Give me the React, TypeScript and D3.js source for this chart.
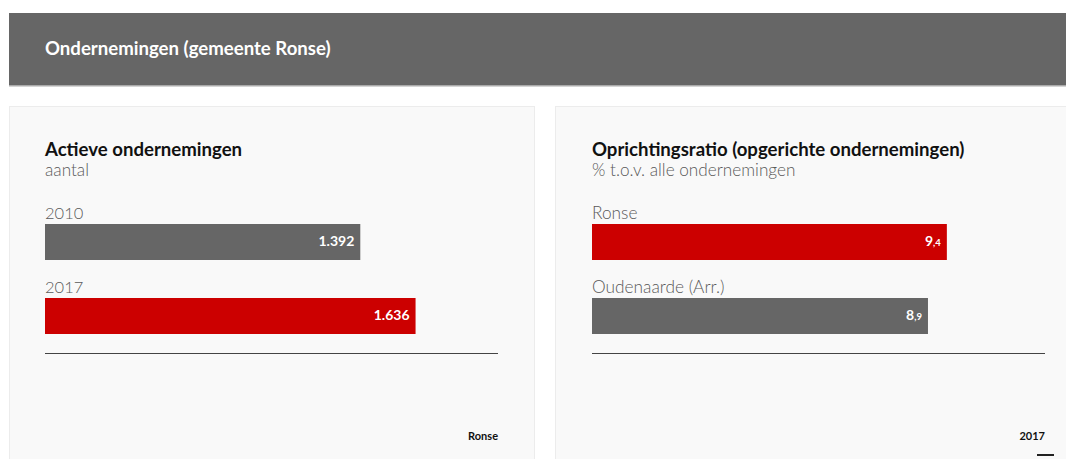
import React from "react";
import * as d3 from "d3";

const leftCategories = ["2010", "2017"];
const leftValues = [1392, 1636];
const leftColors = ["#666666", "#cc0000"];

const rightCategories = ["Ronse", "Oudenaarde (Arr.)"];
const rightValues = [9.4, 8.9];
const rightColors = ["#cc0000", "#666666"];

const FONT = "Lato, 'Open Sans', sans-serif";

function Panel({ x0, title, subtitle, cats, vals, colors, domainMax, fmt, footer, footerMark, catSize }: any) {
  const left = x0 + 36;
  const right = left + 453;
  const xs = d3.scaleLinear().domain([0, domainMax]).range([left, right]);
  const ys = d3.scaleBand().domain(cats).range([205, 353]).paddingInner(0).paddingOuter(0);
  return (
    <g>
      <text x={left} y={155.5} fontFamily={FONT} fontWeight={700} fontSize={18.6} fill="#111">{title}</text>
      <text x={left} y={176} fontFamily={FONT} fontWeight={300} fontSize={17.2} fill="#5a5a5a">{subtitle}</text>
      {cats.map((c: string, i: number) => {
        const yb = (ys(c) as number);
        const barY = yb + 19;
        const w = xs(vals[i]) - xs(0);
        const parts = fmt(vals[i]);
        return (
          <g key={c}>
            <text x={left} y={yb + 14} fontFamily={FONT} fontWeight={300} fontSize={catSize} fill="#5a5a5a">{c}</text>
            <rect x={xs(0)} y={barY} width={w} height={36} fill={colors[i]} />
            <text x={xs(vals[i]) - 6} y={barY + 22} textAnchor="end" fontFamily={FONT} fontWeight={700} fill="#fff">
              <tspan fontSize={14}>{parts[0]}</tspan>
              {parts[1] ? <tspan fontSize={9.5}>{parts[1]}</tspan> : null}
            </text>
          </g>
        );
      })}
      <line x1={left} x2={right} y1={353.5} y2={353.5} stroke="#444" strokeWidth={1.2} />
      <text x={right} y={440} textAnchor="end" fontFamily={FONT} fontWeight={700} fontSize={11} fill="#111">{footer}</text>
      {footerMark ? <rect x={right - 8} y={454} width={17} height={2} fill="#222" /> : null}
    </g>
  );
}

export default function App() {
  const fmtThousands = (v: number) => [d3.format(",")(v).replace(/,/g, "."), ""];
  const fmtDecimal = (v: number) => {
    const s = d3.format(".1f")(v).split(".");
    return [s[0], "," + s[1]];
  };
  return (
    <div style={{ position: "absolute", left: 0, top: 0 }}>
      <svg width={1066} height={459} style={{ display: "block", background: "#fff" }}>
        <rect x={9} y={13} width={1057} height={72} fill="#666666" />
        <rect x={9} y={85} width={1057} height={1.5} fill="#aaaaaa" />
        <text x={45} y={55} fontFamily={FONT} fontWeight={700} fontSize={18.6} fill="#fff">Ondernemingen (gemeente Ronse)</text>
        <rect x={9.5} y={106.5} width={525} height={360} fill="#f9f9f9" stroke="#ececec" />
        <rect x={555.5} y={106.5} width={520} height={360} fill="#f9f9f9" stroke="#ececec" />
        <Panel x0={9} title="Actieve ondernemingen" subtitle="aantal" cats={leftCategories} vals={leftValues}
          colors={leftColors} domainMax={2000} fmt={fmtThousands} footer="Ronse" footerMark={false} catSize={16.5} />
        <Panel x0={556} title="Oprichtingsratio (opgerichte ondernemingen)" subtitle="% t.o.v. alle ondernemingen"
          cats={rightCategories} vals={rightValues} colors={rightColors} domainMax={12} fmt={fmtDecimal}
          footer="2017" footerMark={true} catSize={17.3} />
      </svg>
    </div>
  );
}
